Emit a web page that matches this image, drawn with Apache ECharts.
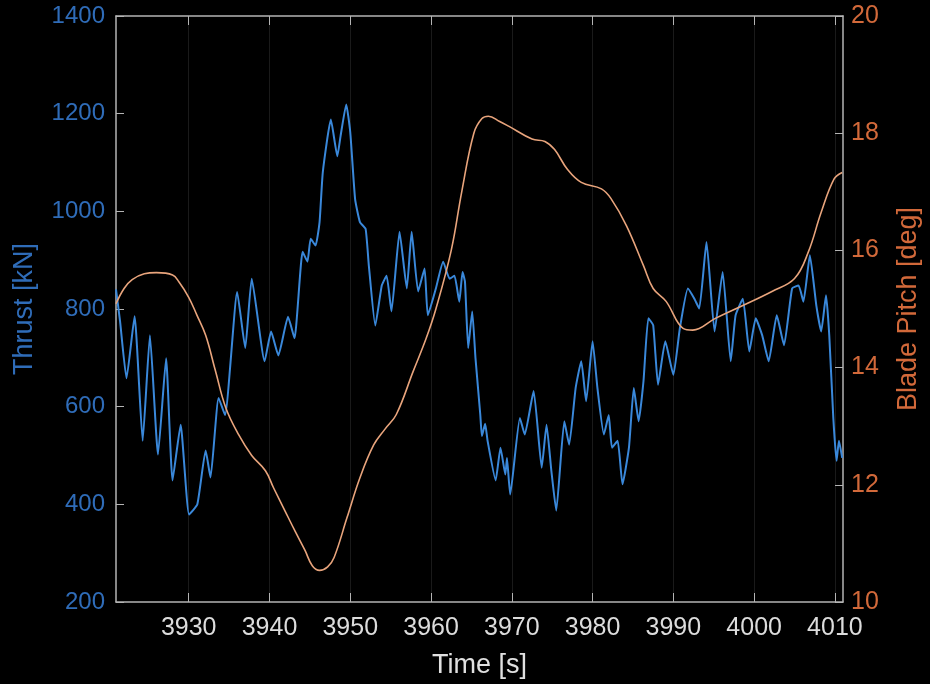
<!DOCTYPE html>
<html><head><meta charset="utf-8">
<script src="https://cdn.jsdelivr.net/npm/echarts@6/dist/echarts.min.js"></script>
<style>html,body{margin:0;padding:0;background:#000;}#c{width:930px;height:684px;}</style>
</head><body><div id="c"></div>
<script>
const xTicks = [3930, 3940, 3950, 3960, 3970, 3980, 3990, 4000, 4010];

const thrustTime = [3921.0,3921.5,3922.3,3923.3,3924.3,3925.2,3926.2,3927.2,3928.0,3929.0,3930.05,3931.07,3932.1,3932.7,3933.7,3934.5,3936.0,3937.0,3937.8,3939.4,3940.2,3941.1,3942.3,3943.1,3944.1,3944.7,3945.1,3945.7,3946.2,3946.6,3947.6,3948.4,3948.8,3949.5,3950.0,3950.6,3951.2,3951.9,3952.3,3953.1,3953.9,3954.5,3955.1,3956.1,3957.0,3957.6,3958.4,3959.2,3959.6,3960.6,3961.5,3962.3,3962.9,3963.5,3963.9,3964.2,3964.6,3965.1,3965.5,3966.1,3966.3,3966.7,3967.0,3968.0,3968.6,3969.2,3969.4,3969.8,3971.0,3971.6,3972.7,3973.7,3974.3,3974.9,3975.5,3976.5,3977.1,3977.9,3978.6,3979.2,3980.0,3980.6,3981.4,3982.0,3982.4,3983.1,3983.7,3984.5,3985.1,3985.7,3986.3,3986.9,3987.5,3988.1,3989.0,3990.0,3990.8,3991.8,3992.6,3993.2,3994.1,3995.1,3996.1,3997.1,3997.7,3998.6,3999.4,4000.2,4001.0,4001.8,4002.8,4003.7,4004.7,4005.5,4006.1,4006.9,4007.7,4008.3,4008.9,4009.3,4009.8,4010.2,4010.5,4010.9];
const thrustValues = [840,775,658,785,530,746,502,699,449,563,379,400,510,455,618,583,835,720,862,693,754,705,784,740,917,897,944,930,978,1080,1188,1113,1154,1219,1162,1025,978,964,889,766,848,868,795,958,842,958,836,883,787,842,897,862,868,815,876,856,720,795,700,583,540,565,530,449,516,461,495,420,577,543,632,475,563,468,387,570,522,638,693,611,734,638,543,583,516,530,441,516,638,570,652,781,767,645,734,665,760,842,821,801,937,754,876,693,787,821,713,781,746,693,787,726,842,848,815,910,807,754,828,746,577,489,530,495];

const pitchTime = [3921.0,3922.0,3923.0,3924.5,3926.0,3928.0,3928.8,3930.0,3931.0,3932.1,3933.3,3934.6,3936.2,3937.8,3939.5,3940.5,3941.9,3943.2,3944.4,3945.3,3946.2,3947.2,3948.0,3949.6,3951.2,3952.9,3954.3,3955.7,3957.8,3959.4,3960.6,3962.5,3963.8,3965.3,3966.3,3967.1,3968.5,3969.6,3972.5,3974.1,3975.3,3976.9,3978.6,3981.1,3982.3,3984.2,3986.3,3987.5,3989.1,3991.2,3992.4,3995.2,3998.6,4002.2,4005.0,4006.7,4008.3,4009.9,4010.9];
const pitchValues = [15.09,15.35,15.5,15.6,15.62,15.58,15.46,15.2,14.9,14.55,13.95,13.31,12.85,12.5,12.24,11.95,11.56,11.2,10.88,10.62,10.54,10.6,10.76,11.44,12.12,12.68,12.95,13.2,13.94,14.5,15.0,16.0,17.0,18.0,18.25,18.29,18.2,18.12,17.9,17.86,17.72,17.38,17.16,17.05,16.88,16.42,15.74,15.35,15.13,14.67,14.64,14.84,15.06,15.3,15.52,15.97,16.65,17.22,17.33];

const FONT = 'Liberation Sans';
const AX = '#b4b4b4';
const BLUE_TXT = '#2f6cb8';
const ORANGE_TXT = '#d2693a';
const plain = v => String(v);

const chart = echarts.init(document.getElementById('c'));
chart.setOption({
  backgroundColor: '#000',
  animation: false,
  grid: { left: 116, right: 79, top: 16, bottom: 79 },
  xAxis: [{
    type: 'value', min: 3921, max: 4011, position: 'bottom',
    axisLine: { show: true, lineStyle: { color: AX, width: 1.5 } },
    axisTick: { show: true, inside: true, length: 9, customValues: xTicks, lineStyle: { color: AX } },
    axisLabel: { customValues: xTicks, formatter: plain, color: '#dcdcdc', fontSize: 25, margin: 14, fontFamily: FONT },
    splitLine: { show: true, lineStyle: { color: '#1a1a1a' } },
    name: 'Time [s]', nameLocation: 'middle', nameGap: 50,
    nameTextStyle: { color: '#e0e0e0', fontSize: 27, fontFamily: FONT }
  }, {
    type: 'value', min: 3921, max: 4011, position: 'top',
    axisLine: { show: true, lineStyle: { color: AX, width: 1.5 } },
    axisTick: { show: true, inside: true, length: 9, customValues: xTicks, lineStyle: { color: AX } },
    axisLabel: { show: false },
    splitLine: { show: false }
  }],
  yAxis: [{
    type: 'value', min: 200, max: 1400, interval: 200, position: 'left',
    axisLine: { show: true, lineStyle: { color: AX, width: 1.5 } },
    axisTick: { show: true, inside: true, length: 8, lineStyle: { color: AX } },
    axisLabel: { formatter: plain, color: BLUE_TXT, fontSize: 24, margin: 11, fontFamily: FONT },
    splitLine: { show: false },
    name: 'Thrust [kN]', nameLocation: 'middle', nameGap: 78,
    nameTextStyle: { color: BLUE_TXT, fontSize: 27, fontFamily: FONT }
  }, {
    type: 'value', min: 10, max: 20, interval: 2, position: 'right',
    axisLine: { show: true, lineStyle: { color: AX, width: 1.5 } },
    axisTick: { show: true, inside: true, length: 8, lineStyle: { color: AX } },
    axisLabel: { formatter: plain, color: ORANGE_TXT, fontSize: 25, margin: 8, fontFamily: FONT },
    splitLine: { show: false },
    name: 'Blade Pitch [deg]', nameLocation: 'middle', nameGap: 52,
    nameTextStyle: { color: ORANGE_TXT, fontSize: 27, fontFamily: FONT }
  }],
  series: [{
    type: 'line', xAxisIndex: 0, yAxisIndex: 0,
    data: thrustTime.map((t, i) => [t, thrustValues[i]]),
    showSymbol: false, smooth: 0.15,
    lineStyle: { color: '#3a88da', width: 2 }
  }, {
    type: 'line', xAxisIndex: 0, yAxisIndex: 1,
    data: pitchTime.map((t, i) => [t, pitchValues[i]]),
    showSymbol: false, smooth: 0.4,
    lineStyle: { color: '#e8a47c', width: 1.6 }
  }]
});
</script>
</body></html>
